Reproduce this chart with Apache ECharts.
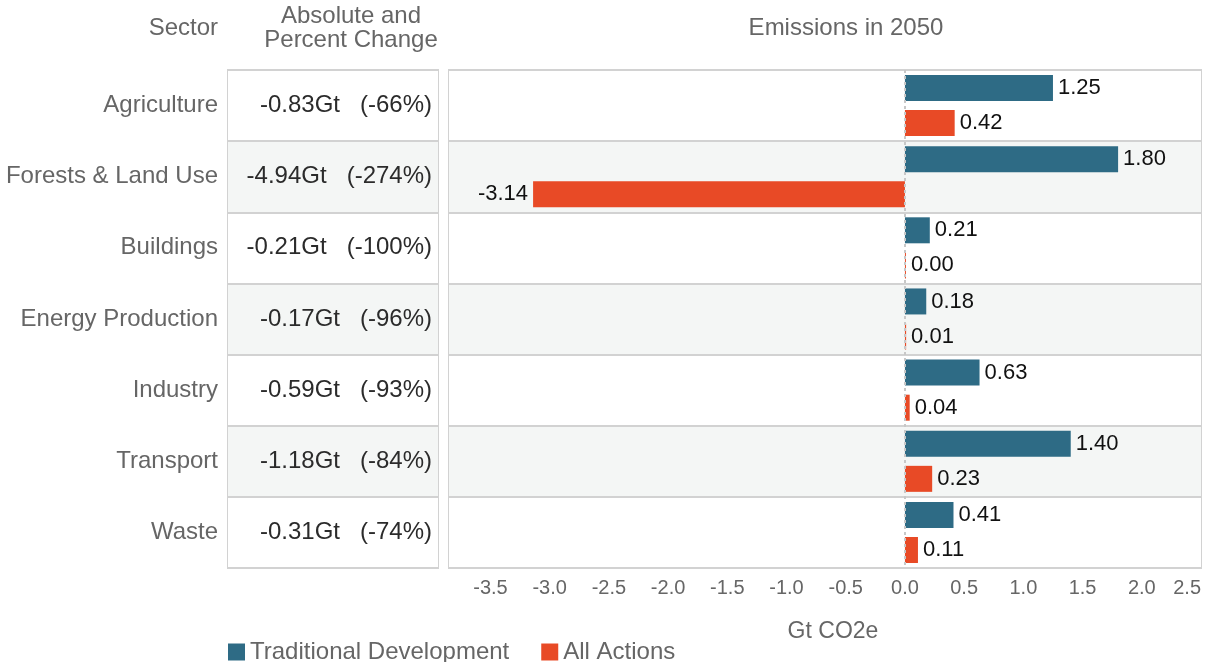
<!DOCTYPE html>
<html>
<head>
<meta charset="utf-8">
<script src="https://cdn.jsdelivr.net/npm/echarts@6/dist/echarts.min.js"></script>
<style>
  html, body { margin: 0; padding: 0; background: #fff; }
  #main { width: 1210px; height: 662px; }
</style>
</head>
<body>
<div id="main"></div>
<script>
// data
var sectors = ['Agriculture', 'Forests & Land Use', 'Buildings', 'Energy Production', 'Industry', 'Transport', 'Waste'];
var absChange = [-0.83, -4.94, -0.21, -0.17, -0.59, -1.18, -0.31];
var pctChange = [-66, -274, -100, -96, -93, -84, -74];
var traditional = [1.25, 1.80, 0.21, 0.18, 0.63, 1.40, 0.41];
var allActions = [0.42, -3.14, 0.00, 0.01, 0.04, 0.23, 0.11];
var xTicks = [-3.5, -3.0, -2.5, -2.0, -1.5, -1.0, -0.5, 0.0, 0.5, 1.0, 1.5, 2.0, 2.5];

var changeText = absChange.map(function (v, i) {
  return v.toFixed(2) + 'Gt   (' + pctChange[i] + '%)';
});

var FONT = '"Liberation Sans", Arial, sans-serif';
var GREY = '#666';
var LINE = '#d2d2d2';
var BANDS = ['#ffffff', '#f4f6f5'];

var chartDom = document.getElementById('main');
var myChart = echarts.init(chartDom);

function valueLabel() {
  return {
    show: true,
    position: 'right',
    distance: 5,
    fontSize: 22,
    color: '#111',
    fontFamily: FONT,
    formatter: function (p) { return Number(p.value).toFixed(2); }
  };
}

function withNegLabels(arr) {
  return arr.map(function (v) {
    return v < 0 ? { value: v, label: { position: 'left' } } : v;
  });
}

var option = {
  animation: false,
  textStyle: { fontFamily: FONT },
  graphic: [
    { type: 'text', style: { text: 'Sector', x: 218, y: 28, textAlign: 'right', textVerticalAlign: 'middle', fill: GREY, font: '24px ' + FONT } },
    { type: 'text', style: { text: 'Absolute and\nPercent Change', x: 351, y: 28, textAlign: 'center', textVerticalAlign: 'middle', fill: GREY, font: '24px ' + FONT, lineHeight: 24 } },
    { type: 'text', style: { text: 'Emissions in 2050', x: 846, y: 28, textAlign: 'center', textVerticalAlign: 'middle', fill: GREY, font: '24px ' + FONT } }
  ],
  legend: {
    left: 223,
    top: 635,
    itemWidth: 17,
    itemHeight: 17,
    itemGap: 32,
    icon: 'rect',
    textStyle: { fontSize: 24, color: GREY, fontFamily: FONT },
    data: ['Traditional Development', 'All Actions']
  },
  grid: [
    { left: 228, width: 210, top: 70, height: 498, show: true, borderColor: LINE, borderWidth: 2, containLabel: false },
    { left: 449, width: 752, top: 70, height: 498, show: true, borderColor: LINE, borderWidth: 2, containLabel: false }
  ],
  xAxis: [
    { gridIndex: 0, type: 'value', show: false, min: 0, max: 1 },
    {
      gridIndex: 1,
      type: 'value',
      min: -3.85,
      max: 2.5,
      axisLine: { show: false },
      axisTick: { show: false },
      splitLine: { show: false },
      axisLabel: {
        customValues: xTicks,
        alignMaxLabel: 'right',
        margin: 10,
        fontSize: 20,
        color: GREY,
        fontFamily: FONT,
        formatter: function (v) { return Number(v).toFixed(1); }
      },
      name: 'Gt CO2e',
      nameLocation: 'middle',
      nameGap: 52,
      nameTextStyle: { fontSize: 23, color: GREY, fontFamily: FONT, padding: [0, 0, 0, 16] }
    }
  ],
  yAxis: [
    {
      gridIndex: 0,
      type: 'category',
      inverse: true,
      position: 'left',
      data: sectors,
      axisLine: { show: false },
      axisTick: { show: false },
      axisLabel: { margin: 10, fontSize: 24, color: GREY, fontFamily: FONT },
      splitLine: { show: true, lineStyle: { color: LINE, width: 2 } },
      splitArea: { show: true, areaStyle: { color: BANDS } }
    },
    {
      gridIndex: 0,
      type: 'category',
      inverse: true,
      position: 'right',
      data: changeText,
      axisLine: { show: false },
      axisTick: { show: false },
      axisLabel: { inside: true, margin: 6, fontSize: 24, color: '#2b2b2b', fontFamily: FONT },
      splitLine: { show: false }
    },
    {
      gridIndex: 1,
      type: 'category',
      inverse: true,
      data: sectors,
      axisLine: { show: false },
      axisTick: { show: false },
      axisLabel: { show: false },
      splitLine: { show: true, lineStyle: { color: LINE, width: 2 } },
      splitArea: { show: true, areaStyle: { color: BANDS } }
    }
  ],
  series: [
    {
      name: 'Traditional Development',
      type: 'bar',
      xAxisIndex: 1,
      yAxisIndex: 2,
      barWidth: 26,
      barGap: '35%',
      itemStyle: { color: '#2e6b85' },
      label: valueLabel(),
      data: withNegLabels(traditional),
      markLine: {
        silent: true,
        symbol: 'none',
        label: { show: false },
        lineStyle: { type: [3, 3], color: '#c8c8c8', width: 2 },
        data: [{ xAxis: 0 }]
      }
    },
    {
      name: 'All Actions',
      type: 'bar',
      xAxisIndex: 1,
      yAxisIndex: 2,
      barWidth: 26,
      barGap: '35%',
      barMinHeight: 1,
      itemStyle: { color: '#e84a26' },
      label: valueLabel(),
      data: withNegLabels(allActions)
    }
  ]
};

option && myChart.setOption(option);
</script>
</body>
</html>
